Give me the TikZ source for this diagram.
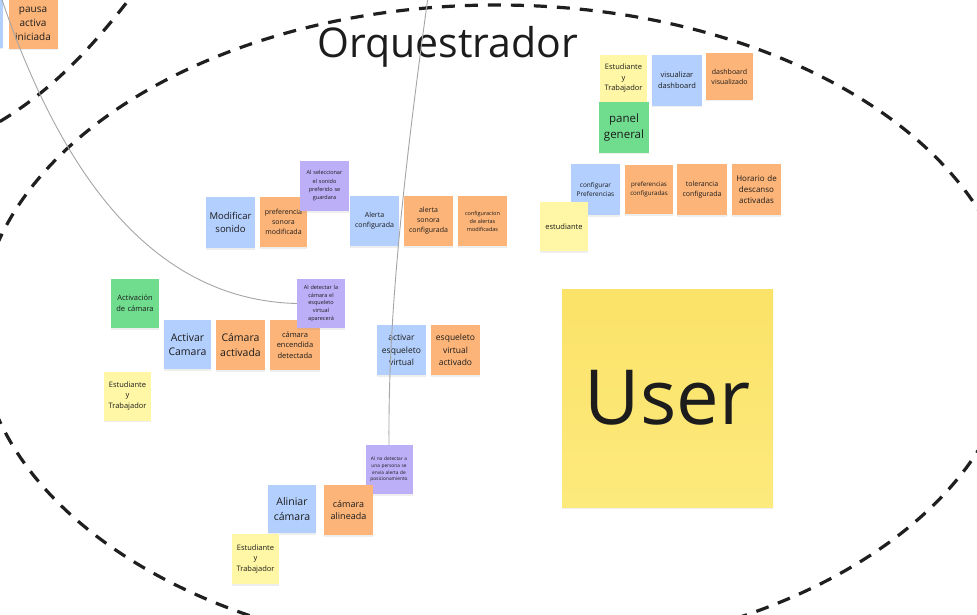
\documentclass[tikz,border=0pt]{standalone}
\usepackage{fontspec}
\setmainfont{Open Sans}
\usetikzlibrary{shadows}
\hyphenpenalty=10000
\exhyphenpenalty=10000
\definecolor{cOr}{RGB}{252,180,120}
\definecolor{cBl}{RGB}{178,207,253}
\definecolor{cGr}{RGB}{111,220,142}
\definecolor{cPu}{RGB}{188,174,247}
\definecolor{cYe}{RGB}{255,247,165}
\definecolor{cUs}{RGB}{251,226,104}
\definecolor{cUs2}{RGB}{253,234,125}
\definecolor{cTx}{RGB}{28,28,28}
\definecolor{cLn}{RGB}{165,165,165}
\tikzset{
  stk/.style={inner sep=0pt, align=center, text=cTx,
    drop shadow={shadow xshift=0pt, shadow yshift=-1.5pt, opacity=0.13}},
  dashline/.style={line width=3.2pt, dash pattern=on 13pt off 10pt, draw=black!88},
  conn/.style={draw=cLn, line width=0.9pt},
}
\newcommand{\stk}[9]{%
  \pgfmathsetmacro{\stkw}{#4-4}%
  \node[stk, fill=#6, minimum width=#4pt, minimum height=#5pt, text width=\stkw pt,
        font=\fontsize{#7}{#8}\selectfont] (#1) at (#2,#3) {#9};}
\begin{document}
\begin{tikzpicture}[x=1pt,y=-1pt]
\fill[white] (0,0) rectangle (977,615);
\useasboundingbox (0,0) rectangle (977,615);
\clip (0,0) rectangle (977,615);
% dashed boundaries
\draw[dashline] (497,330) ellipse [x radius=518pt, y radius=325pt];
\draw[dashline] (140,-15) .. controls (95,45) and (50,95) .. (-15,130);
% title
\node[text=cTx, font=\fontsize{41}{49}\selectfont] (title) at (448,47) {Orquestrador};
% notes
\stk{tlb}{-21}{23}{48}{50}{cBl}{7}{10}{}
\stk{pausa}{33}{24}{49}{50}{cOr}{10}{14}{pausa\\activa\\iniciada}
\stk{est1}{623.5}{78.5}{47}{47}{cYe}{7.5}{10.5}{Estudiante\\y\\Trabajador}
\stk{panel}{624}{127.5}{50}{51}{cGr}{11.5}{16}{panel\\general}
\stk{visdash}{677}{80.5}{50}{51}{cBl}{7.5}{10.7}{visualizar\\dashboard}
\stk{dashvis}{729.5}{76.5}{47}{47}{cOr}{7}{10}{dashboard\\visualizado}
\stk{confpref}{595.5}{189.5}{49}{51}{cBl}{6.5}{9}{configurar\\Preferencias}
\stk{estud}{564}{226.5}{48}{49}{cYe}{7.5}{10}{estudiante}
\stk{prefconf}{649}{189.5}{48}{49}{cOr}{6.2}{9}{preferencias\\configuradas}
\stk{tolconf}{702}{189.5}{50}{51}{cOr}{7}{10}{tolerancia\\configurada}
\stk{horario}{756.5}{189.5}{49}{51}{cOr}{8}{11.3}{Horario de\\descanso\\activadas}
\stk{modson}{230.5}{222.5}{49}{51}{cBl}{9.5}{13}{Modificar\\sonido}
\stk{prefson}{283.5}{222}{47}{50}{cOr}{7}{10.3}{preferencia\\sonora\\modificada}
\stk{alsel}{324.5}{186}{49}{50}{cPu}{5.5}{8.3}{Al seleccionar\\el sonido\\preferido se\\guardara}
\stk{alconf}{374.5}{221}{49}{50}{cBl}{7}{10}{Alerta\\configurada}
\stk{alson}{428.5}{221}{49}{50}{cOr}{7}{10}{alerta\\sonora\\configurada}
\stk{confal}{482.5}{221}{49}{50}{cOr}{5.5}{8}{configuracion\\de alertas\\modificadas}
\stk{actcam}{135}{303.5}{48}{49}{cGr}{7.5}{10.7}{Activación\\de cámara}
\stk{activar}{187.5}{344.5}{47}{49}{cBl}{10.5}{14}{Activar\\Camara}
\stk{camact}{240.5}{345}{49}{50}{cOr}{10.5}{14.7}{Cámara\\activada}
\stk{camenc}{295}{345}{50}{50}{cOr}{7.5}{10.7}{cámara\\encendida\\detectada}
\stk{aldet}{321}{303.5}{48}{49}{cPu}{5.5}{7.9}{Al detectar la\\cámara el\\esqueleto\\virtual\\aparecerá}
\stk{est2}{127.5}{396}{47}{49}{cYe}{7.5}{10.5}{Estudiante\\y\\Trabajador}
\stk{actesq}{401.5}{350}{49}{50}{cBl}{8.5}{12.2}{activar\\esqueleto\\virtual}
\stk{esqact}{455.5}{350}{49}{50}{cOr}{8.5}{12.2}{esqueleto\\virtual\\activado}
\stk{alnodet}{389}{469.5}{47}{49}{cPu}{4.8}{6.8}{Al no detectar a\\una persona se\\envía alerta de\\posicionamiento}
\stk{alin}{292}{509}{48}{48}{cBl}{10.5}{14.3}{Aliniar\\cámara}
\stk{camal}{348.5}{510}{49}{50}{cOr}{9}{12.3}{cámara\\alineada}
\stk{est3}{255.5}{559}{47}{50}{cYe}{7.5}{10.5}{Estudiante\\y\\Trabajador}
\node[stk, top color=cUs, bottom color=cUs2, minimum width=211pt, minimum height=218pt,
      font=\fontsize{76}{90}\selectfont] (user) at (667.5,398) {User};
% connectors
\coordinate (c1) at (1,-3);
\coordinate (c2) at (428,-3);
\draw[conn] (c1) .. controls (60,170) and (150,300) .. (aldet.west);
\draw[conn] (c2) .. controls (400,200) and (388,330) .. (alnodet.north);
\end{tikzpicture}
\end{document}
